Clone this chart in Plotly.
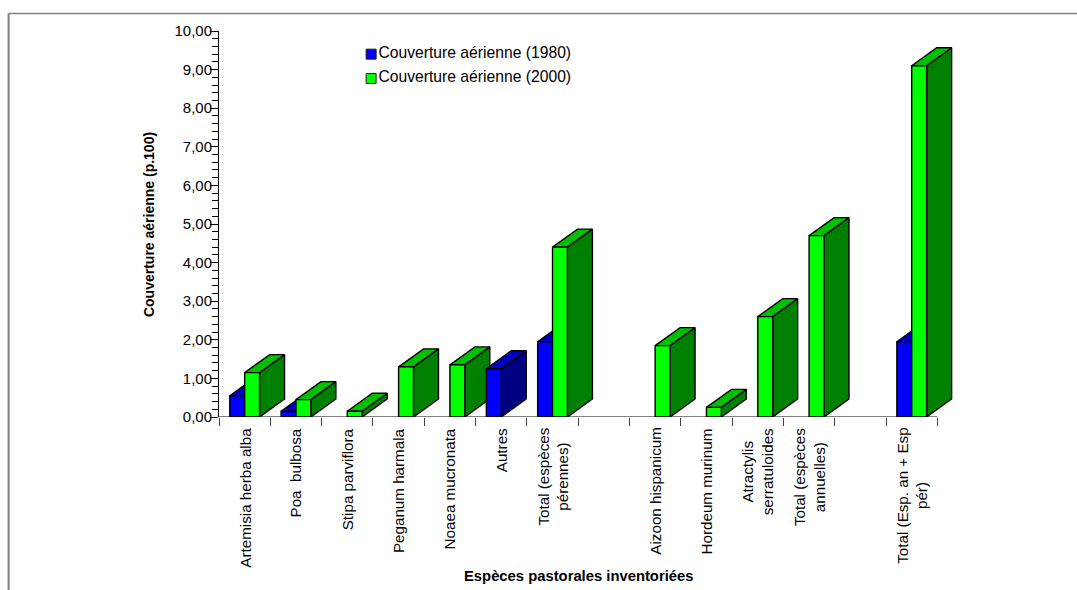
import plotly.graph_objects as go

# Inventoried pastoral species; empty strings are spacer slots on the axis
categories = [
    "Artemisia herba alba", "Poa\u00a0\u00a0bulbosa", "Stipa parviflora", "Peganum harmala",
    "Noaea mucronata", "Autres", "Total (espèces<br>pérennes)", "",
    "Aizoon hispanicum", "Hordeum murinum", "Atractylis<br>serratuloides",
    "Total (espèces<br>annuelles)", "", "Total (Esp. an + Esp<br>pér)",
]
cover_1980 = [0.55, 0.15, None, None, None, 1.25, 1.95, None, None, None, None, None, None, 1.95]
cover_2000 = [1.15, 0.45, 0.15, 1.30, 1.35, None, 4.40, None, 1.85, 0.25, 2.60, 4.70, None, 9.10]
legend_names = ["Couverture aérienne (1980)", "Couverture aérienne (2000)"]

FONT = "Liberation Sans, Arial, sans-serif"
WIDTH, HEIGHT = 1077, 590
LEFT, TOP, BOTTOM = 219.3, 30.5, 416.7
STEP = 51.286                       # pixels per category
UNIT = (BOTTOM - TOP) / 10          # pixels per y unit
SPARE = 2                           # extra slots on the right hold the extruded depth
RIGHT = LEFT + STEP * (len(categories) + SPARE)
BAR = 0.29                          # bar width in category units
DX = 25 / STEP                      # depth of the extrusion, x units
DY = 18 / UNIT                      # depth of the extrusion, y units

BLUE = ("#0000FF", "#0000C0", "#000080")    # front, top, side
GREEN = ("#00FF00", "#00C000", "#008000")

fig = go.Figure()

# Category axis baseline, stops at the last category boundary
fig.add_trace(go.Scatter(
    x=[-0.5, len(categories) - 0.5], y=[0, 0], mode="lines",
    line=dict(color="#808080", width=2), showlegend=False, hoverinfo="skip", cliponaxis=False,
))


def face(xs, ys, colour):
    fig.add_trace(go.Scatter(
        x=xs + xs[:1], y=ys + ys[:1], mode="lines", fill="toself", fillcolor=colour,
        line=dict(color="black", width=1.4), cliponaxis=False,
        showlegend=False, hoverinfo="skip",
    ))


def bar3d(x0, value, colours):
    x1 = x0 + BAR
    front, top, side = colours
    face([x1, x1 + DX, x1 + DX, x1], [0, DY, value + DY, value], side)
    face([x0, x0 + DX, x1 + DX, x1], [value, value + DY, value + DY, value], top)
    face([x0, x1, x1, x0], [0, 0, value, value], front)


# Left-to-right so that a bar covers the extruded side of its left neighbour
for i in range(len(categories)):
    if cover_1980[i] is not None:
        bar3d(i - BAR, cover_1980[i], BLUE)
    if cover_2000[i] is not None:
        bar3d(i, cover_2000[i], GREEN)

# Key placed inside the plot area, swatch plus series name
for name, colours, y in zip(legend_names, (BLUE, GREEN), (9.40, 8.77)):
    fig.add_trace(go.Scatter(
        x=[2.465], y=[y], mode="markers+text", text=[name], textposition="middle right",
        textfont=dict(family=FONT, size=15.7, color="black"),
        marker=dict(symbol="square", size=10, color=colours[0], line=dict(color="#222", width=1)),
        showlegend=False, hoverinfo="skip", cliponaxis=False,
    ))

plot_w, plot_h = RIGHT - LEFT, BOTTOM - TOP

annotations = [
    dict(x=i, y=0, xref="x", yref="y", yshift=-9, text=label, textangle=-90, showarrow=False,
         xanchor="center", yanchor="top", align="center",
         font=dict(family=FONT, size=15.2, color="black"))
    for i, label in enumerate(categories) if label
]
annotations.append(dict(
    x=(150 - LEFT) / plot_w, y=(BOTTOM - 224) / plot_h, xref="paper", yref="paper",
    xanchor="center", yanchor="middle", showarrow=False,
    text="<b>Couverture aérienne (p.100)</b>", textangle=-90,
    font=dict(family=FONT, size=14, color="black"),
))
annotations.append(dict(
    x=(578.5 - LEFT) / plot_w, y=(BOTTOM - 576) / plot_h, xref="paper", yref="paper",
    xanchor="center", yanchor="middle", showarrow=False,
    text="<b>Espèces pastorales inventoriées</b>",
    font=dict(family=FONT, size=14.8, color="black"),
))

fig.update_layout(
    width=WIDTH, height=HEIGHT,
    margin=dict(l=LEFT, r=WIDTH - RIGHT, t=TOP, b=HEIGHT - BOTTOM, pad=0),
    paper_bgcolor="white", plot_bgcolor="white",
    separators=", ",
    showlegend=False,
    annotations=annotations,
    shapes=[
        # Outer frame: left edge and top edge
        dict(type="line", xref="paper", yref="paper",
             x0=(9 - LEFT) / plot_w, x1=(9 - LEFT) / plot_w,
             y0=(BOTTOM - 590) / plot_h, y1=(BOTTOM - 13) / plot_h,
             line=dict(color="#808080", width=2)),
        dict(type="line", xref="paper", yref="paper",
             x0=(9 - LEFT) / plot_w, x1=(1077 - LEFT) / plot_w,
             y0=(BOTTOM - 13) / plot_h, y1=(BOTTOM - 13) / plot_h,
             line=dict(color="#808080", width=1.5)),
    ],
    xaxis=dict(
        range=[-0.5, len(categories) + SPARE - 0.5],
        tickmode="array", tickvals=[i - 0.5 for i in range(len(categories) + 1)],
        showticklabels=False, ticks="outside", ticklen=8, tickcolor="#444", tickwidth=1,
        showgrid=False, zeroline=False, showline=False,
    ),
    yaxis=dict(
        range=[0, 10], tickmode="linear", tick0=0, dtick=1, tickformat=".2f",
        ticks="outside", ticklen=8, tickcolor="black", tickwidth=1, ticklabelstandoff=-5,
        tickfont=dict(family=FONT, size=15, color="black"),
        minor=dict(ticks="outside", ticklen=6, dtick=0.2, tick0=0, tickcolor="black", tickwidth=1, showgrid=False),
        showgrid=False, zeroline=False, showline=True, linecolor="black", linewidth=1,
        layer="below traces",
    ),
)

fig.write_html("out.html")
